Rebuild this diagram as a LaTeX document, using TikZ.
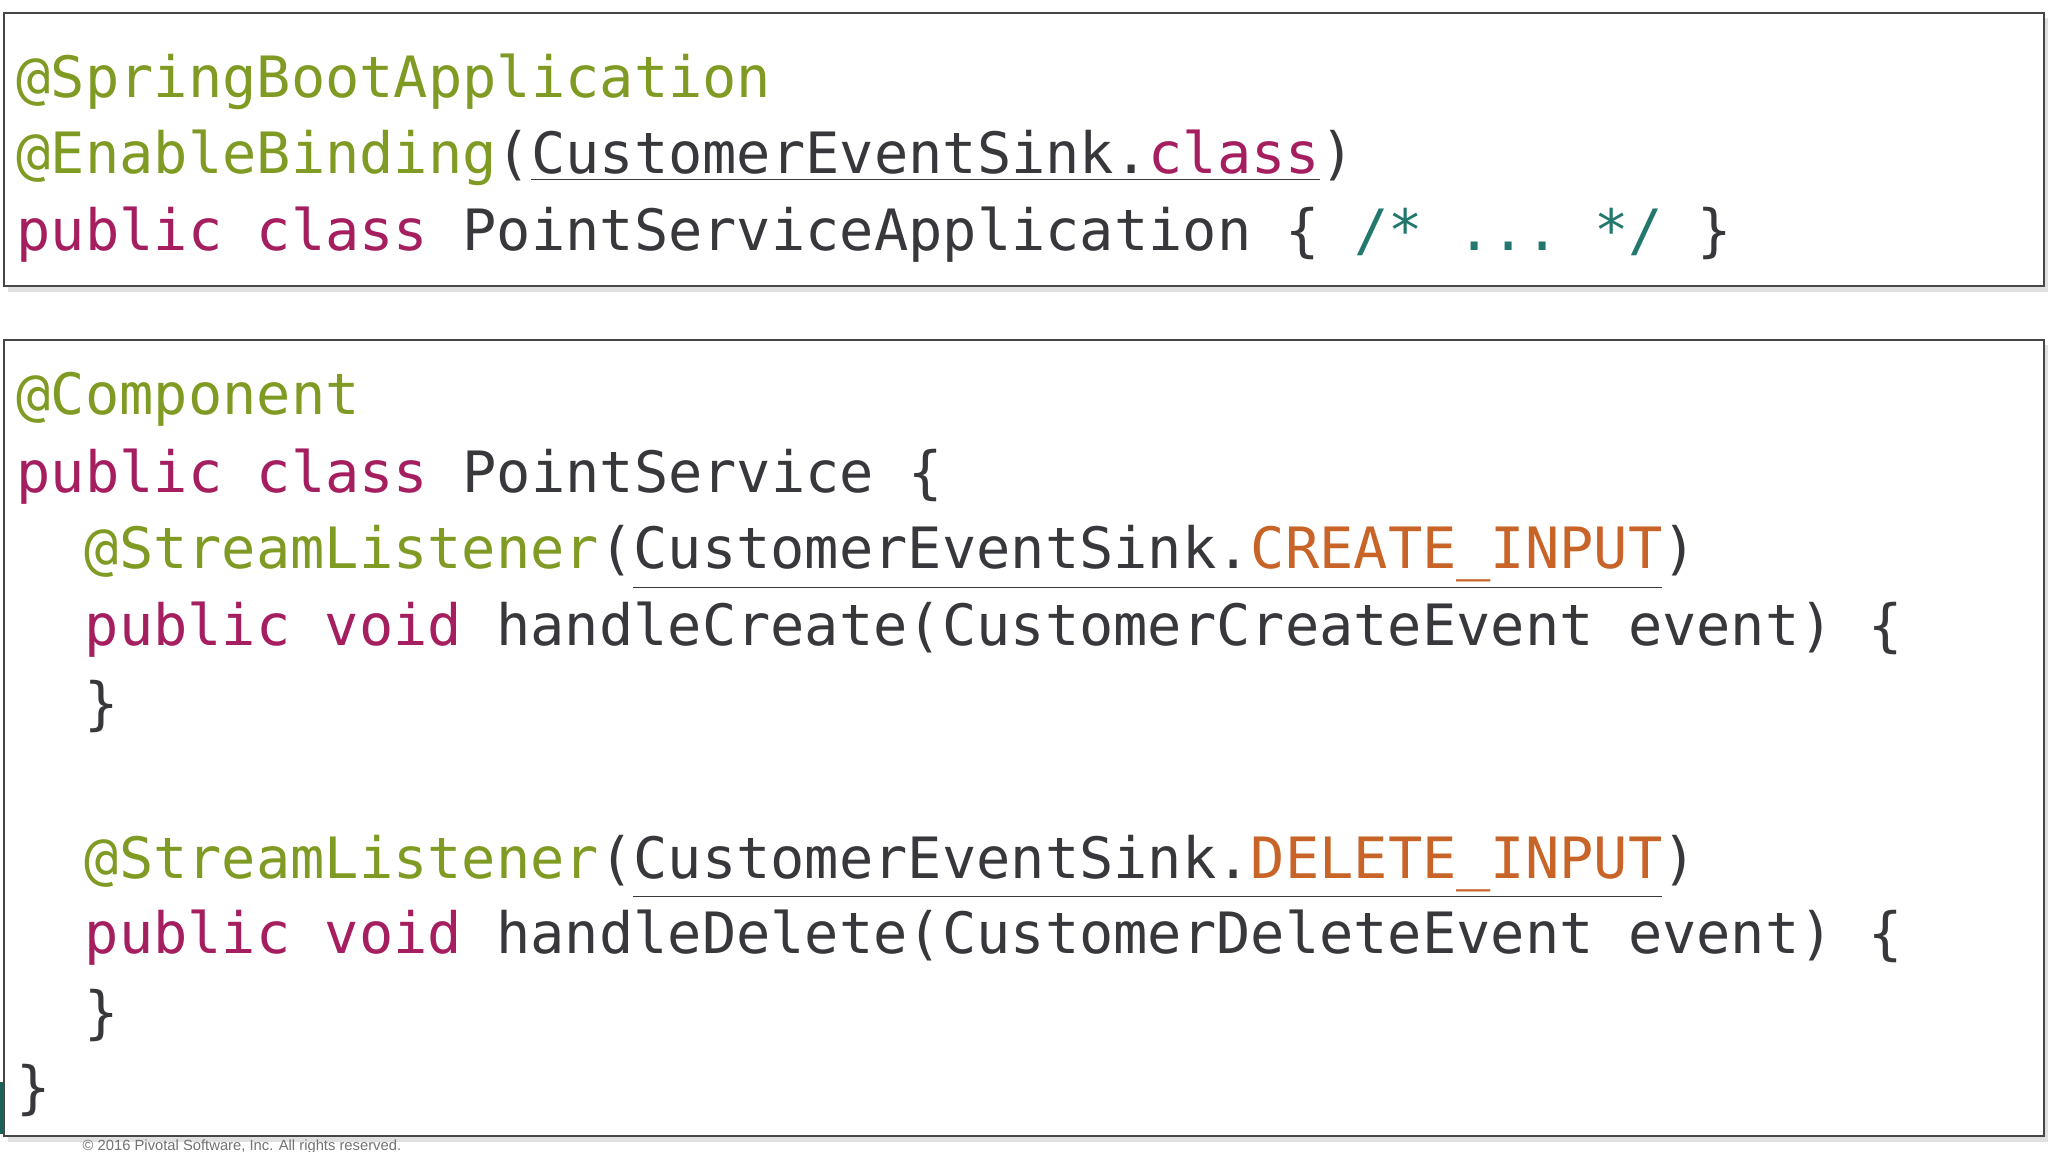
\documentclass[tikz,border=0pt]{standalone}
\usepackage{fontspec}
\setmonofont{DejaVu Sans Mono}
\definecolor{ann}{RGB}{128,155,35}
\definecolor{kw}{RGB}{165,30,95}
\definecolor{pl}{RGB}{55,55,60}
\definecolor{cm}{RGB}{35,120,110}
\definecolor{cst}{RGB}{200,100,40}
\definecolor{frame}{RGB}{70,70,70}
\newcommand{\ul}[1]{\underline{#1}}
\tikzset{codeline/.style={anchor=base west,inner sep=0pt,font=\ttfamily\fontsize{16.2}{18}\selectfont,text=pl},
 codebox/.style={draw=frame,line width=0.6pt,fill=white}}
\begin{document}
\begin{tikzpicture}[x=0.01cm,y=-0.01cm]
\useasboundingbox[fill=white] (0,0) rectangle (2048,1152);
\fill[black!12] (8,18) rectangle (2048,292);
\fill[black!12] (8,345) rectangle (2048,1142);
\draw[codebox] (4,13) rectangle (2044,286);
\draw[codebox] (4,340) rectangle (2044,1136);
\fill[cm!80!black] (0,1082) rectangle (4,1134);
\node[codeline] (l1) at (16,98) {\color{ann}@SpringBootApplication};
\node[codeline] (l2) at (16,174) {\color{ann}@EnableBinding\color{pl}(\ul{CustomerEventSink.\color{kw}class})};
\node[codeline] (l3) at (16,251) {\color{kw}public class \color{pl}PointServiceApplication \{ \color{cm}/* ... */ \color{pl}\}};
\node[codeline] (b1) at (16,415) {\color{ann}@Component};
\node[codeline] (b2) at (16,492) {\color{kw}public class \color{pl}PointService \{};
\node[codeline] (b3) at (84,569) {\color{ann}@StreamListener\color{pl}(\ul{CustomerEventSink.\color{cst}CREATE\_INPUT})};
\node[codeline] (b4) at (84,646) {\color{kw}public void \color{pl}handleCreate(CustomerCreateEvent event) \{};
\node[codeline] (b5) at (84,723) {\}};
\node[codeline] (b6) at (84,878) {\color{ann}@StreamListener\color{pl}(\ul{CustomerEventSink.\color{cst}DELETE\_INPUT})};
\node[codeline] (b7) at (84,953) {\color{kw}public void \color{pl}handleDelete(CustomerDeleteEvent event) \{};
\node[codeline] (b8) at (84,1032) {\}};
\node[codeline] (b9) at (16,1107) {\}};
\node[anchor=base west,inner sep=0pt,font=\fontspec{Liberation Sans}\fontsize{4.2}{5}\selectfont,text=black!55] (ft) at (82,1150) {© 2016 Pivotal Software, Inc. All rights reserved.};
\end{tikzpicture}
\end{document}
